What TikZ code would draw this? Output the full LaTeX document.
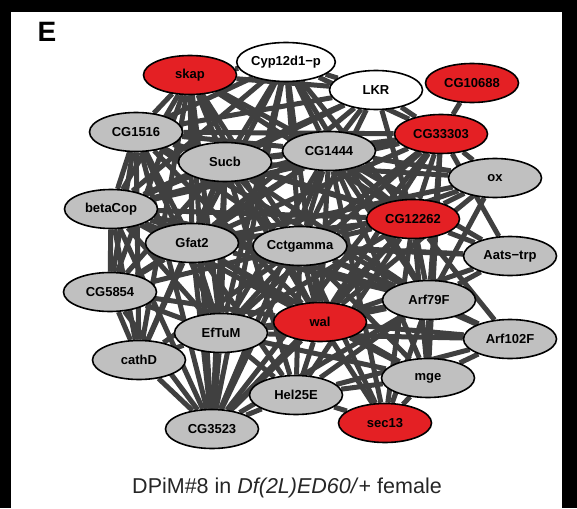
\documentclass[tikz,border=0pt]{standalone}
\usepackage{fontspec}
\setmainfont{Liberation Sans}
\usetikzlibrary{shapes.geometric, backgrounds}
\definecolor{hitred}{RGB}{228,32,36}
\definecolor{hitgray}{RGB}{192,192,192}
\definecolor{edgegray}{RGB}{64,64,64}
\tikzset{
    % Gene nodes
    gene/.style={ellipse, draw=black, line width=1.6pt, fill=#1,
                minimum width=93pt, minimum height=39pt, inner sep=0pt,
                font=\fontsize{13}{15}\selectfont\bfseries},
    gene/.default=hitgray,
    % Interactions
    link/.style={line width=5pt, edgegray},
    % Labels
    panel/.style={font=\fontsize{28}{30}\selectfont\bfseries},
    caption/.style={font=\fontsize{21.5}{24}\selectfont, text=black!85},
}

\begin{document}
\begin{tikzpicture}[x=1pt, y=-1pt]
\useasboundingbox (0,0) rectangle (577,508);
\fill[black] (0,0) rectangle (577,12);
\fill[black] (0,0) rectangle (11,508);
\fill[black] (562,0) rectangle (577,508);

\node[panel] (lbl) at (47,32) {E};

\node[gene=hitred] (skap)    at (190,75)  {skap};
\node[gene=white]  (cyp)     at (286,62)  {Cyp12d1−p};
\node[gene=white]  (lkr)     at (376,90)  {LKR};
\node[gene=hitred] (cg10688) at (472,83)  {CG10688};
\node[gene]        (cg1516)  at (136,132) {CG1516};
\node[gene=hitred] (cg33303) at (441,134) {CG33303};
\node[gene]        (sucb)    at (225,162) {Sucb};
\node[gene]        (cg1444)  at (329,151) {CG1444};
\node[gene]        (ox)      at (495,178) {ox};
\node[gene]        (betacop) at (111,209) {betaCop};
\node[gene=hitred] (cg12262) at (413,219) {CG12262};
\node[gene]        (gfat)    at (192,243) {Gfat2};
\node[gene]        (cct)     at (300,246) {Cctgamma};
\node[gene]        (aats)    at (510,256) {Aats−trp};
\node[gene]        (cg5854)  at (110,292) {CG5854};
\node[gene]        (arf79)   at (429,300) {Arf79F};
\node[gene]        (eftum)   at (221,333) {EfTuM};
\node[gene=hitred] (wal)     at (320,322) {wal};
\node[gene]        (arf102)  at (510,339) {Arf102F};
\node[gene]        (cathd)   at (139,360) {cathD};
\node[gene]        (mge)     at (428,378) {mge};
\node[gene]        (hel)     at (296,395) {Hel25E};
\node[gene=hitred] (sec)     at (385,423) {sec13};
\node[gene]        (cg3523)  at (212,429) {CG3523};

\begin{scope}[on background layer]
% dense core, all pairs
\foreach \a [count=\i] in {cyp,cg1516,sucb,cg1444,cg33303,betacop,cg12262,gfat,cct,arf79,eftum,wal,cg3523}
  \foreach \b [count=\j] in {cyp,cg1516,sucb,cg1444,cg33303,betacop,cg12262,gfat,cct,arf79,eftum,wal,cg3523}
    {\ifnum\j>\i \draw[link] (\a) -- (\b); \fi}
% remaining genes
\foreach \p/\qs in {skap/{cyp,cg1516,sucb,cg1444,gfat,cct,betacop,cg12262,eftum,wal,cg5854,cg3523},
                    cg5854/{betacop,cg1516,sucb,gfat,cct,eftum,wal,cg3523,cg1444},
                    hel/{eftum,cg3523,wal,cct,gfat,mge,cg12262,sucb,arf79},
                    mge/{arf79,wal,cct,cg12262,cg1444,eftum,gfat,cg33303},
                    lkr/{cyp,skap,cg1516,sucb,cg1444,gfat,betacop,cg33303,cct,cg12262},
                    ox/{cg33303,cg12262,cg1444,sucb,cct,gfat,arf79,wal},
                    aats/{cg33303,cg12262,cct,wal,arf79,gfat,cg1444},
                    arf102/{arf79,mge,cg12262,wal,hel,cct,eftum},
                    cathd/{cg5854,eftum,gfat,sucb,cg1516,betacop,cct,cg3523,skap},
                    sec/{mge,wal,arf79,cct,cg12262,hel,cg1444},
                    cg10688/{cg33303}}
  \foreach \q in \qs {\draw[link] (\p) -- (\q);}
\end{scope}

\node[caption] (cap) at (287,488) {DPiM\#8 in \textit{Df(2L)ED60/}+ female};
\end{tikzpicture}
\end{document}
